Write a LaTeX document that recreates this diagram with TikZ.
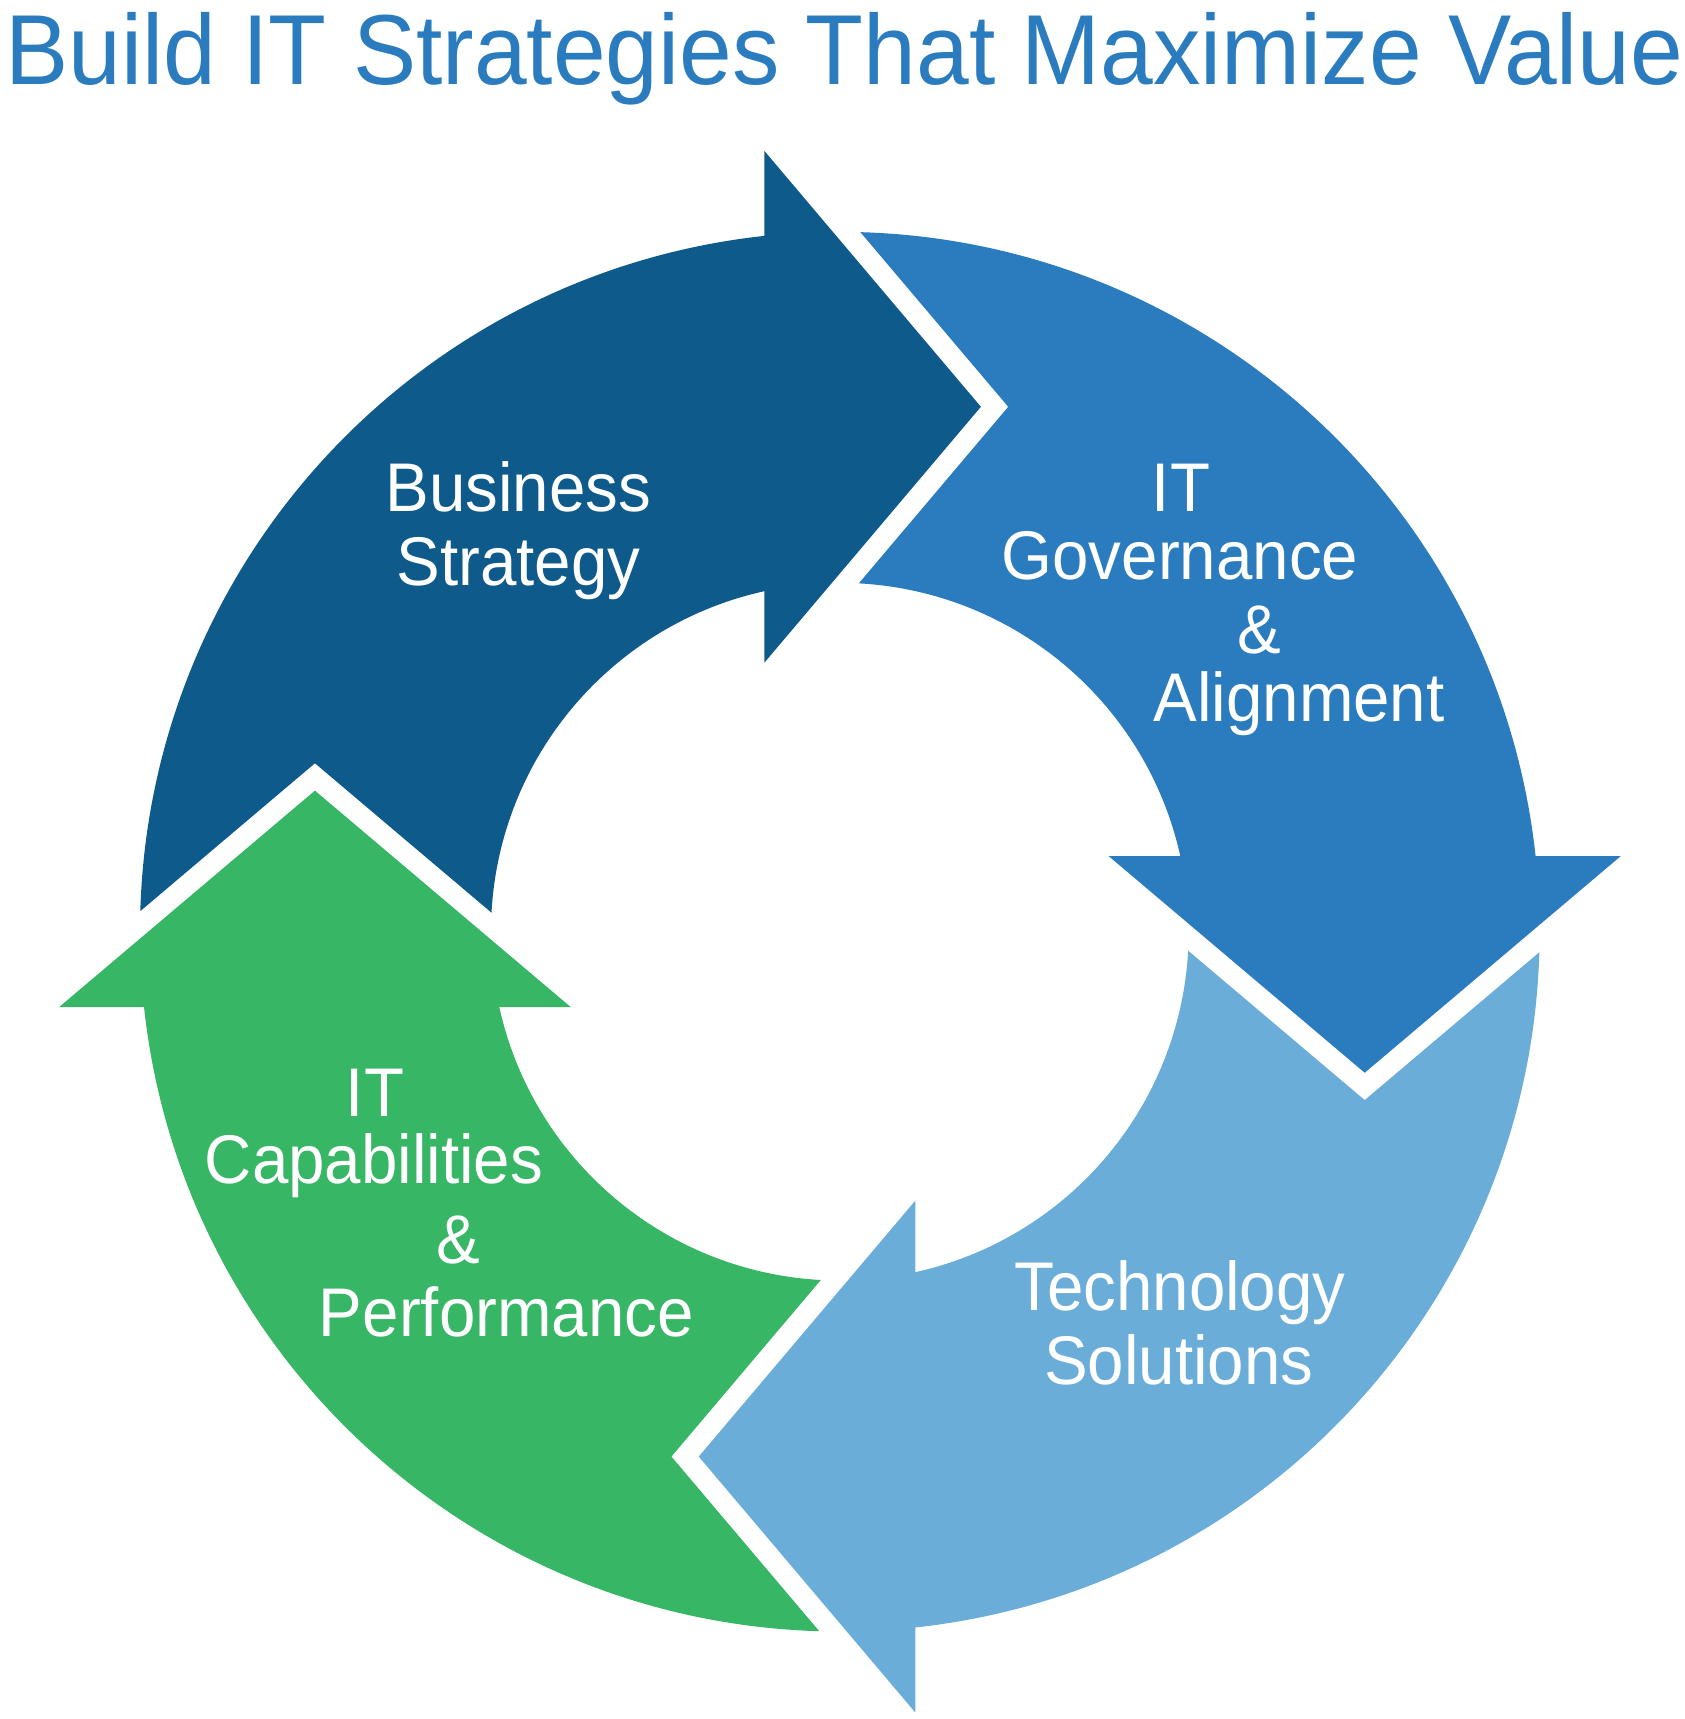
\documentclass[tikz,border=0pt]{standalone}
\usepackage{fontspec}
\setmainfont{Liberation Sans}
\definecolor{cBus}{HTML}{0E5A8A}
\definecolor{cGov}{HTML}{2A7CBF}
\definecolor{cTech}{HTML}{6AADD8}
\definecolor{cCap}{HTML}{37B665}
\definecolor{cTitle}{HTML}{2A7CBF}
\begin{document}
\begin{tikzpicture}[x=1pt,y=1pt,
  lbl/.style={text=white, font=\fontsize{63}{72}\selectfont, anchor=base, inner sep=0pt, xscale=0.95, transform shape},
  ttl/.style={text=cTitle, font=\fontsize{91}{100}\selectfont, anchor=base west, inner sep=0pt, xscale=0.952, transform shape}]
\useasboundingbox (0,0) rectangle (1540,-1572);
\foreach \ang/\col in {0/cBus, -90/cGov, -180/cTech, 90/cCap} {
  \begin{scope}[shift={(768,-852)}, rotate=\ang]
    \fill[\col] (-639.7,18.8) arc[start angle=178.32, end angle=96.19, radius=640]
      -- (-69,714) -- (129,480) -- (-69,246) -- (-69,311.4)
      arc[start angle=102.49, end angle=176.87, radius=319]
      -- (-480,154) -- cycle;
  \end{scope}
}
\node[ttl] (title) at (5,-77) {Build IT Strategies That Maximize Value};
\node[lbl] (bus1) at (474,-468) {Business};
\node[lbl] (bus2) at (474,-535) {Strategy};
\node[lbl] (gov1) at (1080,-468) {IT};
\node[lbl] (gov2) at (1079,-530) {Governance};
\node[lbl] (gov3) at (1152,-598) {\&};
\node[lbl] (gov4) at (1188,-660) {Alignment};
\node[lbl] (tec1) at (1079,-1198) {Technology};
\node[lbl] (tec2) at (1078,-1266) {Solutions};
\node[lbl] (cap1) at (343,-1021) {IT};
\node[lbl] (cap2) at (342,-1082) {Capabilities};
\node[lbl] (cap3) at (419,-1155) {\&};
\node[lbl] (cap4) at (463,-1222) {Performance};
\end{tikzpicture}
\end{document}
